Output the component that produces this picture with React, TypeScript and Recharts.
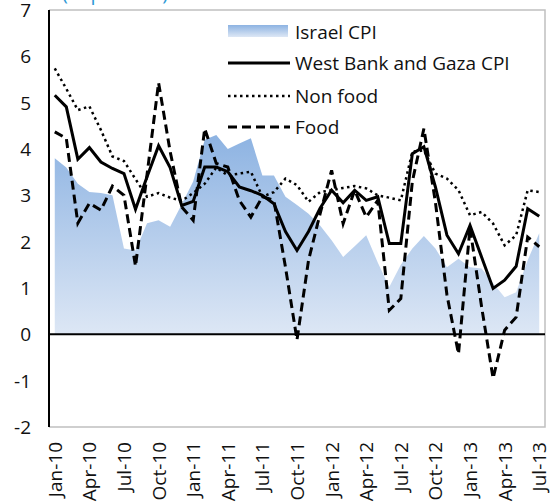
import React from "react";
import {
  ComposedChart,
  Area,
  Line,
  XAxis,
  YAxis,
  ReferenceLine,
  Customized,
} from "recharts";

const monthNames = ["Jan", "Feb", "Mar", "Apr", "May", "Jun", "Jul", "Aug", "Sep", "Oct", "Nov", "Dec"];
const years = ["10", "11", "12", "13"];
const categories: string[] = [];
years.forEach((yy) => {
  monthNames.forEach((m) => {
    if (yy === "13" && categories.filter((c) => c.endsWith("-13")).length >= 7) return;
    categories.push(`${m}-${yy}`);
  });
});

const israelCPI = [
  3.8, 3.6, 3.25, 3.07, 3.05, 3.0, 1.85, 1.81, 2.4, 2.46, 2.32, 2.8,
  3.3, 4.2, 4.3, 4.0, 4.12, 4.23, 3.43, 3.43, 2.97, 2.79, 2.6, 2.35,
  2.03, 1.67, 1.9, 2.14, 1.55, 1.02, 1.5, 1.85, 2.12, 1.85, 1.45, 1.63,
  1.45, 1.42, 1.1, 0.8, 0.91, 1.6, 2.18,
];
const wbgCPI = [
  5.16, 4.91, 3.78, 4.03, 3.72, 3.58, 3.47, 2.7, 3.4, 4.07, 3.6, 2.78,
  2.87, 3.61, 3.61, 3.51, 3.18, 3.1, 3.0, 2.82, 2.22, 1.81, 2.22, 2.72,
  3.11, 2.84, 3.11, 2.89, 2.97, 1.96, 1.96, 3.9, 4.05, 3.18, 2.14, 1.74,
  2.35, 1.67, 0.99, 1.17, 1.47, 2.71, 2.55,
];
const nonFoodCPI = [
  5.74, 5.3, 4.84, 4.92, 4.41, 3.84, 3.74, 3.35, 2.97, 3.05, 2.95, 2.88,
  3.05, 3.25, 3.6, 3.43, 3.47, 3.51, 2.97, 3.07, 3.36, 3.22, 2.86, 3.07,
  3.11, 3.16, 3.2, 3.15, 3.0, 2.95, 2.89, 3.94, 3.97, 3.47, 3.36, 3.11,
  2.57, 2.64, 2.39, 1.92, 2.14, 3.11, 3.07,
];
const foodCPI = [
  4.37, 4.23, 2.4, 2.83, 2.68, 3.2, 3.0, 1.47, 3.45, 5.43, 3.95, 2.75,
  2.46, 4.44, 3.69, 3.61, 2.89, 2.53, 2.97, 2.89, 1.45, -0.12, 1.6, 2.6,
  3.54, 2.39, 3.11, 2.53, 2.89, 0.52, 0.77, 3.3, 4.44, 2.85, 0.85, -0.42,
  2.3, 0.6, -0.95, 0.09, 0.37, 2.1, 1.89,
];
const yTicks = [-2, -1, 0, 1, 2, 3, 4, 5, 6, 7];

const legendItems = [
  { key: "israel", label: "Israel CPI" },
  { key: "wbg", label: "West Bank and Gaza CPI" },
  { key: "nonFood", label: "Non food" },
  { key: "food", label: "Food" },
];

const data = categories.map((month, i) => ({
  month,
  israel: israelCPI[i],
  wbg: wbgCPI[i],
  nonFood: nonFoodCPI[i],
  food: foodCPI[i],
}));

const FONT = "'Open Sans', sans-serif";

const XTick = (props: any) => {
  const { x, payload } = props;
  return (
    <text
      transform={`translate(${x},442) rotate(-90)`}
      textAnchor="end"
      dominantBaseline="central"
      fontSize={19}
      fontFamily={FONT}
      fill="#111"
    >
      {payload.value}
    </text>
  );
};

const YTick = (props: any) => {
  const { y, payload } = props;
  return (
    <text
      x={31}
      y={y}
      textAnchor="end"
      dominantBaseline="central"
      fontSize={19}
      fontFamily={FONT}
      fill="#111"
    >
      {payload.value}
    </text>
  );
};

const Decor = (props: any) => {
  const off = props.offset || { left: 49, top: 10, width: 496, height: 417 };
  const L = off.left;
  const T = off.top;
  const R = off.left + off.width;
  const B = off.top + off.height;
  const lx1 = 228;
  const lx2 = 290;
  const tx = 295;
  const rows = [32, 63, 96, 127];
  return (
    <g>
      <defs>
        <linearGradient id="israelGrad" x1="0" y1="0" x2="0" y2="1">
          <stop offset="0%" stopColor="#8DB3E2" />
          <stop offset="100%" stopColor="#DDE7F5" />
        </linearGradient>
      </defs>
      <path
        d={`M${L},${T} L${R},${T} L${R},${B} L${L},${B}`}
        fill="none"
        stroke="#C0C0C0"
        strokeWidth={1.5}
      />
      <text x={62} y={0} fill="#2E9AD6" fontSize={20} fontFamily={FONT}>
        (in percent)
      </text>
      <rect x={lx1} y={25} width={60} height={12} fill="url(#israelGrad)" />
      <line x1={lx1} x2={lx2} y1={rows[1]} y2={rows[1]} stroke="#000" strokeWidth={3} />
      <line
        x1={lx1}
        x2={lx2}
        y1={rows[2]}
        y2={rows[2]}
        stroke="#000"
        strokeWidth={2.5}
        strokeDasharray="2.5 3.5"
      />
      <line
        x1={lx1}
        x2={lx2}
        y1={rows[3]}
        y2={rows[3]}
        stroke="#000"
        strokeWidth={3}
        strokeDasharray="9 5"
      />
      {legendItems.map((it, i) => (
        <text
          key={it.key}
          x={tx}
          y={rows[i]}
          dominantBaseline="central"
          fontSize={19}
          fontFamily={FONT}
          fill="#111"
        >
          {it.label}
        </text>
      ))}
    </g>
  );
};

export default function App() {
  return (
    <div style={{ position: "absolute", left: 0, top: 0, width: 558, height: 502, background: "#fff" }}>
      <ComposedChart
        width={558}
        height={502}
        data={data}
        margin={{ top: 10, right: 13, bottom: 0, left: 0 }}
      >
        <Customized component={Decor} />
        <XAxis
          dataKey="month"
          interval={2}
          tick={<XTick />}
          axisLine={false}
          tickLine={false}
          height={75}
          padding={{ left: 5.77, right: 5.77 }}
        />
        <YAxis
          domain={[-2, 7]}
          ticks={yTicks}
          width={49}
          tickLine={false}
          axisLine={{ stroke: "#000", strokeWidth: 2 }}
          tick={<YTick />}
          allowDataOverflow
        />
        <Area
          type="linear"
          dataKey="israel"
          fill="url(#israelGrad)"
          fillOpacity={1}
          stroke="none"
          baseValue={0}
          isAnimationActive={false}
          dot={false}
          activeDot={false}
        />
        <ReferenceLine y={0} stroke="#000" strokeWidth={2} />
        <Line
          type="linear"
          dataKey="food"
          stroke="#000"
          strokeWidth={3}
          strokeDasharray="9 5"
          dot={false}
          activeDot={false}
          isAnimationActive={false}
        />
        <Line
          type="linear"
          dataKey="nonFood"
          stroke="#000"
          strokeWidth={2.5}
          strokeDasharray="2.5 3.5"
          dot={false}
          activeDot={false}
          isAnimationActive={false}
        />
        <Line
          type="linear"
          dataKey="wbg"
          stroke="#000"
          strokeWidth={3}
          dot={false}
          activeDot={false}
          isAnimationActive={false}
        />
      </ComposedChart>
    </div>
  );
}
